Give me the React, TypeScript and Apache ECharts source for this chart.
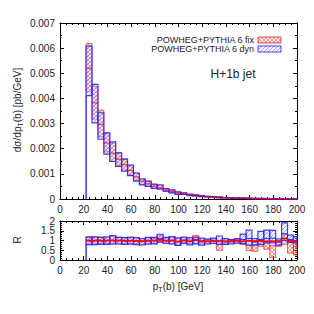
import React, { useEffect, useRef } from "react";
import * as echarts from "echarts";

// bin lower edges in GeV (width 5)
const binStart = [22, 27, 32, 37, 42, 47, 52, 57, 62, 67, 72, 77, 82, 87, 92, 97, 102, 107, 112, 117, 122, 127, 132, 137, 142, 147, 152, 157, 162, 167, 172, 177, 182, 187, 192, 197];
const binWidth = 5;
// reference central value (pb/GeV)
const fixCentral = [0.0052, 0.00383, 0.00297, 0.00223, 0.00182, 0.00158, 0.00138, 0.00115, 0.0009, 0.00073, 0.00061, 0.00051, 0.00043, 0.00036, 0.0003, 0.00025, 0.00021, 0.00017, 0.00014, 0.00012, 0.0001, 0.000085, 0.00007, 0.000058, 0.000048, 0.00004, 0.000033, 0.000027, 0.000022, 0.000018, 0.000015, 0.000012, 0.00001, 0.000008, 0.000007, 0.000006];
// ratios R to the reference
const fixLoR = [0.82, 0.83, 0.835, 0.84, 0.82, 0.83, 0.82, 0.83, 0.82, 0.8, 0.82, 0.84, 0.9, 0.85, 0.83, 0.76, 0.85, 0.84, 0.85, 0.86, 0.83, 0.84, 0.5, 0.82, 0.86, 0.88, 0.8, 0.48, 0.45, 0.7, 0.55, 0.12, 0.7, 0.8, 0.35, 0.25];
const fixHiR = [1.19, 1.17, 1.19, 1.18, 1.22, 1.17, 1.16, 1.15, 1.14, 1.1, 1.15, 1.17, 1.25, 1.12, 1.18, 1.1, 1.15, 1.06, 1.26, 1.08, 1.06, 1.08, 0.92, 1.02, 1.06, 1.1, 1.05, 0.76, 0.8, 0.95, 0.9, 0.75, 0.95, 1.3, 0.95, 0.95];
const dynLoR = [0.79, 0.79, 0.8, 0.8, 0.82, 0.82, 0.8, 0.81, 0.79, 0.77, 0.82, 0.83, 0.93, 0.86, 0.82, 0.75, 0.87, 0.78, 0.83, 0.76, 0.82, 0.86, 0.8, 0.8, 0.82, 0.86, 0.84, 0.77, 0.76, 0.8, 0.88, 0.88, 0.76, 1.0, 0.9, 0.88];
const dynHiR = [1.17, 1.19, 1.155, 1.18, 1.25, 1.16, 1.15, 1.17, 1.15, 1.09, 1.16, 1.15, 1.32, 1.16, 1.2, 1.13, 1.18, 1.15, 1.17, 1.12, 1.07, 1.12, 1.23, 1.1, 1.05, 1.08, 1.33, 1.53, 1.1, 1.47, 1.53, 1.52, 1.08, 1.9, 1.28, 1.2];
const fixCR = [1, 1, 1, 1, 1, 1, 0.99, 0.99, 0.98, 0.97, 0.99, 1, 1.03, 0.99, 1, 0.95, 1, 0.96, 1.04, 0.97, 0.96, 0.97, 0.98, 0.95, 0.97, 1.0, 0.96, 0.98, 0.97, 0.98, 0.96, 0.96, 0.97, 1.1, 0.98, 0.97];
const dynCR = [0.98, 0.99, 0.98, 0.99, 1.0, 0.99, 0.98, 0.99, 0.97, 0.95, 0.98, 0.99, 1.1, 1.0, 0.99, 0.94, 1.01, 0.96, 1.0, 0.94, 0.95, 0.98, 1.0, 0.95, 0.94, 0.97, 1.05, 1.1, 0.92, 1.05, 1.1, 1.12, 0.92, 1.35, 1.05, 1.0];

const xTicks = { min: 0, max: 200, interval: 20 };
const yMainTicks = { min: 0, max: 0.007, interval: 0.001 };
const yRatioTicks = { min: 0, max: 2, interval: 0.5 };
const yRatioEndTicks = { min: 0, max: 2, interval: 2 };

const FONT = "Liberation Sans";

function makePattern(kind: "red" | "blue") {
  const c = document.createElement("canvas");
  const s = 4;
  c.width = s;
  c.height = s;
  const ctx = c.getContext("2d")!;
  ctx.lineWidth = 1;
  if (kind === "red") {
    ctx.fillStyle = "rgba(255,210,210,0.3)";
    ctx.fillRect(0, 0, s, s);
    ctx.strokeStyle = "rgba(255,60,60,0.5)";
    ctx.beginPath();
    ctx.moveTo(0, 0); ctx.lineTo(s, s);
    ctx.moveTo(0, s); ctx.lineTo(s, 0);
    ctx.stroke();
  } else {
    ctx.fillStyle = "rgba(210,210,255,0.3)";
    ctx.fillRect(0, 0, s, s);
    ctx.strokeStyle = "rgba(80,80,255,0.45)";
    ctx.beginPath();
    ctx.moveTo(0, s); ctx.lineTo(s, 0);
    ctx.moveTo(-1, 1); ctx.lineTo(1, -1);
    ctx.moveTo(s - 1, s + 1); ctx.lineTo(s + 1, s - 1);
    ctx.stroke();
  }
  return { image: c.toDataURL(), imageWidth: s, imageHeight: s, repeat: "repeat" } as any;
}

function bandSeries(xi: number, yi: number, data: number[][], fill: any, stroke: string, lw: number, z: number) {
  return {
    type: "custom",
    xAxisIndex: xi,
    yAxisIndex: yi,
    z,
    silent: true,
    encode: { x: [0, 1], y: [2, 3] },
    data,
    renderItem: (params: any, api: any) => {
      const cs = params.coordSys;
      const x0 = api.value(0);
      const x1 = Math.min(api.value(1), 200);
      const p0 = api.coord([x0, api.value(3)]);
      const p1 = api.coord([x1, api.value(2)]);
      const top = Math.max(p0[1], cs.y);
      const bot = Math.min(p1[1], cs.y + cs.height);
      return {
        type: "rect",
        shape: { x: p0[0], y: top, width: p1[0] - p0[0], height: Math.max(bot - top, 0.5) },
        style: { fill, stroke, lineWidth: lw },
      };
    },
  };
}

function centralSeries(xi: number, yi: number, data: number[][], stroke: string, lw: number, z: number) {
  return {
    type: "custom",
    xAxisIndex: xi,
    yAxisIndex: yi,
    z,
    silent: true,
    encode: { x: [0, 1], y: 2 },
    data,
    renderItem: (params: any, api: any) => {
      const x1 = Math.min(api.value(1), 200);
      const p0 = api.coord([api.value(0), api.value(2)]);
      const p1 = api.coord([x1, api.value(2)]);
      return {
        type: "line",
        shape: { x1: p0[0], y1: p0[1], x2: p1[0], y2: p1[1] },
        style: { stroke, lineWidth: lw },
      };
    },
  };
}

export default function App() {
  const ref = useRef<HTMLDivElement>(null);
  useEffect(() => {
    if (!ref.current) return;
    const chart = echarts.init(ref.current, undefined, { renderer: "svg" });
    const redPat = makePattern("red");
    const bluePat = makePattern("blue");

    const mainFix = binStart.map((b, i) => [b, b + binWidth, fixCentral[i] * fixLoR[i], fixCentral[i] * fixHiR[i]]);
    const mainDyn = binStart.map((b, i) => [b, b + binWidth, fixCentral[i] * dynLoR[i], fixCentral[i] * dynHiR[i]]);
    const mainFixC = binStart.map((b, i) => [b, b + binWidth, fixCentral[i] * fixCR[i]]);
    const rFix = binStart.map((b, i) => [b, b + binWidth, fixLoR[i], fixHiR[i]]);
    const rDyn = binStart.map((b, i) => [b, b + binWidth, dynLoR[i], dynHiR[i]]);
    const rFixC = binStart.map((b, i) => [b, b + binWidth, fixCR[i]]);
    const rDynC = binStart.map((b, i) => [b, b + binWidth, dynCR[i]]);

    const axisLine = { show: true, onZero: false, lineStyle: { color: "#000", width: 1 } };
    const lbl = { fontSize: 10, color: "#222", fontFamily: FONT };
    const mkX = (gi: number, pos: "top" | "bottom", show: boolean) => ({
      type: "value",
      gridIndex: gi,
      position: pos,
      ...xTicks,
      axisLine,
      axisTick: { show: true, inside: true, length: 4, lineStyle: { color: "#000" } },
      minorTick: { show: true, splitNumber: 4, length: 2, lineStyle: { color: "#000" } },
      splitLine: { show: false },
      axisLabel: { show, margin: 5, showMinLabel: true, showMaxLabel: true, ...lbl },
    });
    const mkY = (gi: number, pos: "left" | "right", show: boolean, t: any, minor: number, ends: boolean) => ({
      type: "value",
      gridIndex: gi,
      position: pos,
      ...t,
      axisLine,
      axisTick: { show: true, inside: true, length: 4, lineStyle: { color: "#000" } },
      minorTick: { show: true, splitNumber: minor, length: 2, lineStyle: { color: "#000" } },
      splitLine: { show: false },
      axisLabel: { show, margin: 5, showMinLabel: ends, showMaxLabel: ends, ...lbl },
    });

    const firstLine = (xi: number, yi: number, top: number) => ({
      type: "line",
      xAxisIndex: xi,
      yAxisIndex: yi,
      z: 5,
      silent: true,
      symbol: "none",
      lineStyle: { color: "#0000ff", width: 1.2 },
      data: [[binStart[0], 0], [binStart[0], top]],
    });

    chart.setOption({
      animation: false,
      grid: [
        { left: 60, right: 17, top: 23, height: 176 },
        { left: 60, right: 17, top: 221, height: 39 },
      ],
      xAxis: [mkX(0, "bottom", true), mkX(0, "top", false), mkX(1, "bottom", true), mkX(1, "top", false)],
      yAxis: [
        mkY(0, "left", true, yMainTicks, 2, true),
        mkY(0, "right", false, yMainTicks, 2, true),
        mkY(1, "left", true, yRatioTicks, 5, false),
        mkY(1, "right", false, yRatioTicks, 5, false),
        {
          type: "value", gridIndex: 1, position: "left", ...yRatioEndTicks,
          axisLine: { show: false }, axisTick: { show: false }, splitLine: { show: false },
          axisLabel: { show: true, margin: 5, showMinLabel: true, showMaxLabel: true, ...lbl },
        },
      ],
      series: [
        firstLine(0, 0, fixCentral[0] * dynLoR[0]),
        bandSeries(0, 0, mainFix, redPat, "rgba(255,0,0,0.6)", 1, 2),
        bandSeries(0, 0, mainDyn, bluePat, "rgba(30,30,255,0.85)", 1.2, 3),
        centralSeries(0, 0, mainFixC, "rgba(255,0,0,0.7)", 1.2, 4),
        firstLine(2, 2, dynLoR[0]),
        bandSeries(2, 2, rFix, redPat, "rgba(255,0,0,0.6)", 1, 2),
        bandSeries(2, 2, rDyn, bluePat, "rgba(30,30,255,0.85)", 1.2, 3),
        centralSeries(2, 2, rDynC, "rgba(40,40,255,0.9)", 1.2, 4),
        centralSeries(2, 2, rFixC, "#ff0000", 1.8, 4),
      ],
      graphic: [
        { type: "text", x: 254, y: 40, style: { text: "POWHEG+PYTHIA 6 fix", align: "right", verticalAlign: "middle", fontSize: 9, fontFamily: FONT, fill: "#222" } },
        { type: "text", x: 254, y: 49, style: { text: "POWHEG+PYTHIA 6 dyn", align: "right", verticalAlign: "middle", fontSize: 9, fontFamily: FONT, fill: "#222" } },
        { type: "rect", shape: { x: 258, y: 37, width: 23, height: 6 }, style: { fill: redPat, stroke: "rgba(255,0,0,0.7)", lineWidth: 1 } },
        { type: "rect", shape: { x: 258, y: 46, width: 23, height: 6 }, style: { fill: bluePat, stroke: "rgba(30,30,255,0.85)", lineWidth: 1 } },
        { type: "text", x: 233, y: 74, style: { text: "H+1b jet", align: "center", verticalAlign: "middle", fontSize: 12, fontFamily: FONT, fill: "#222" } },
        {
          type: "text", x: 17, y: 110, rotation: Math.PI / 2,
          style: {
            text: "dσ/dp{s|T}(b) [pb/GeV]", align: "center", verticalAlign: "middle",
            fontSize: 10, fontFamily: FONT, fill: "#222",
            rich: { s: { fontSize: 7, fontFamily: FONT, fill: "#222", padding: [6, 0, 0, 0] } },
          },
        },
        { type: "text", x: 17, y: 240, rotation: Math.PI / 2, style: { text: "R", align: "center", verticalAlign: "middle", fontSize: 10, fontFamily: FONT, fill: "#222" } },
        {
          type: "text", x: 178, y: 286,
          style: {
            text: "p{s|T}(b) [GeV]", align: "center", verticalAlign: "middle",
            fontSize: 10, fontFamily: FONT, fill: "#222",
            rich: { s: { fontSize: 7, fontFamily: FONT, fill: "#222", padding: [6, 0, 0, 0] } },
          },
        },
      ],
    });
    return () => chart.dispose();
  }, []);
  return <div ref={ref} style={{ width: 314, height: 314, position: "absolute", left: 0, top: 0 }} />;
}
